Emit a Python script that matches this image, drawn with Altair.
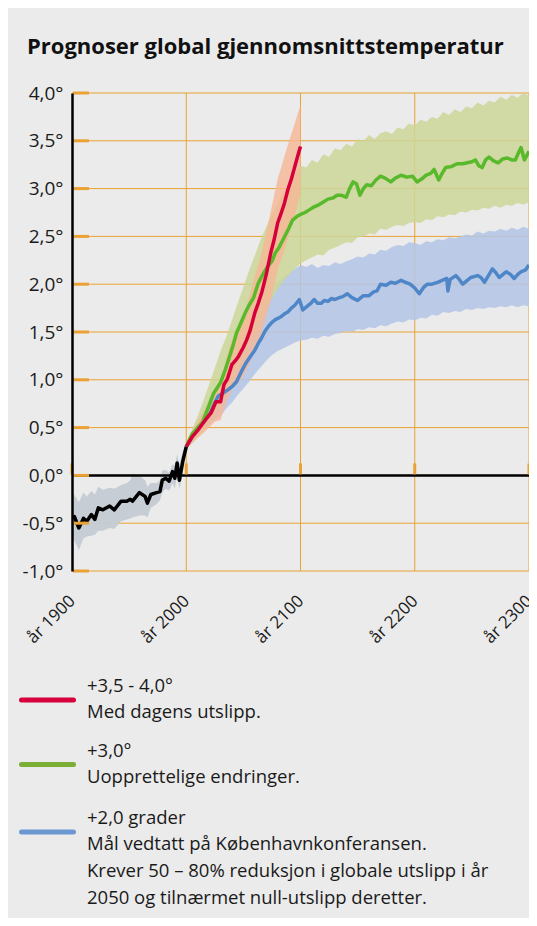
import altair as alt
import pandas as pd

FONT = "Open Sans"
TITLE = "Prognoser global gjennomsnittstemperatur"

y_ticks = [-1.0, -0.5, 0.0, 0.5, 1.0, 1.5, 2.0, 2.5, 3.0, 3.5, 4.0]
x_ticks = [1900, 2000, 2100, 2200, 2300]
grid_years = [2000, 2100, 2200, 2300]

# historical observations 1900-2000
hist_years = [1900, 1902, 1906, 1910, 1913, 1917, 1920, 1923, 1927, 1933, 1937, 1943, 1948, 1951, 1953,
              1959, 1964, 1966, 1969, 1974, 1977, 1979, 1982, 1985, 1988, 1990, 1992, 1994, 1997, 2000]
hist_temp = [-0.44, -0.43, -0.55, -0.45, -0.48, -0.41, -0.46, -0.34, -0.36, -0.32, -0.36, -0.27, -0.27, -0.25, -0.27,
             -0.18, -0.22, -0.29, -0.20, -0.18, -0.17, -0.05, -0.03, -0.06, 0.04, -0.03, 0.13, -0.05, 0.15, 0.30]
hist_hi = [-0.24, -0.20, -0.28, -0.18, -0.22, -0.16, -0.20, -0.12, -0.15, -0.13, -0.14, -0.10, -0.08, -0.05, 0.02,
           0.00, -0.05, -0.12, -0.08, -0.08, -0.05, 0.05, 0.06, 0.03, 0.12, 0.10, 0.22, 0.12, 0.25, 0.34]
hist_lo = [-0.62, -0.68, -0.78, -0.66, -0.64, -0.63, -0.62, -0.58, -0.58, -0.55, -0.56, -0.48, -0.46, -0.45, -0.44,
           -0.42, -0.42, -0.44, -0.34, -0.30, -0.26, -0.18, -0.14, -0.16, -0.08, -0.14, 0.00, -0.14, 0.02, 0.25]

# red scenario (+3,5 - 4,0)
red_years = [2000, 2005, 2010, 2013, 2018, 2022, 2026, 2030, 2033, 2036, 2040, 2043, 2046, 2050, 2053,
             2056, 2060, 2063, 2066, 2070, 2074, 2077, 2080, 2083, 2086, 2089, 2092, 2095, 2098, 2100]
red_temp = [0.30, 0.40, 0.47, 0.52, 0.60, 0.66, 0.77, 0.77, 0.95, 1.01, 1.16, 1.20, 1.25, 1.34, 1.42,
            1.52, 1.70, 1.80, 1.91, 2.10, 2.33, 2.47, 2.64, 2.74, 2.85, 2.99, 3.10, 3.23, 3.36, 3.44]
red_band_years = [2000, 2005, 2010, 2015, 2020, 2025, 2030, 2035, 2040, 2045, 2050,
                  2055, 2060, 2065, 2070, 2075, 2080, 2085, 2090, 2095, 2100]
red_hi = [0.33, 0.46, 0.56, 0.66, 0.76, 0.90, 0.98, 1.22, 1.42, 1.52, 1.66,
          1.86, 2.08, 2.28, 2.54, 2.82, 3.10, 3.30, 3.50, 3.68, 3.88]
red_lo = [0.27, 0.34, 0.39, 0.44, 0.50, 0.56, 0.58, 0.76, 0.90, 0.96, 1.04,
          1.16, 1.32, 1.46, 1.66, 1.88, 2.16, 2.32, 2.52, 2.72, 2.95]

# green scenario (+3,0)
green_years = [2000, 2005, 2010, 2014, 2019, 2024, 2030, 2034, 2037, 2041, 2044, 2048, 2052, 2055, 2059,
               2063, 2067, 2071, 2075, 2078, 2081, 2084, 2087, 2090, 2093, 2097, 2100, 2104, 2108, 2112,
               2116, 2120, 2124, 2128, 2132, 2136, 2140, 2143, 2146, 2149, 2152, 2155, 2158, 2162, 2166,
               2170, 2174, 2179, 2183, 2188, 2193, 2198, 2202, 2206, 2210, 2214, 2217, 2221, 2224, 2227,
               2232, 2237, 2242, 2246, 2250, 2253, 2256, 2259, 2262, 2265, 2269, 2273, 2277, 2281, 2285,
               2288, 2291, 2293, 2296, 2300]
green_temp = [0.30, 0.43, 0.50, 0.55, 0.70, 0.86, 0.97, 1.10, 1.21, 1.36, 1.49, 1.60, 1.71, 1.78, 1.86,
              2.01, 2.10, 2.18, 2.24, 2.33, 2.38, 2.45, 2.52, 2.59, 2.67, 2.71, 2.73, 2.75, 2.78, 2.81,
              2.83, 2.86, 2.89, 2.90, 2.93, 2.93, 2.91, 3.00, 3.07, 3.05, 2.93, 3.00, 3.04, 3.03, 3.09,
              3.13, 3.11, 3.07, 3.11, 3.14, 3.12, 3.13, 3.07, 3.10, 3.14, 3.16, 3.20, 3.09, 3.16, 3.22,
              3.23, 3.26, 3.26, 3.27, 3.28, 3.30, 3.24, 3.22, 3.30, 3.33, 3.29, 3.27, 3.31, 3.32, 3.30,
              3.30, 3.38, 3.43, 3.30, 3.39]

band_years = [2000, 2005, 2010, 2015, 2020, 2025, 2030, 2035, 2040, 2045, 2050, 2055, 2060, 2065, 2070,
              2075, 2080, 2085, 2090, 2095, 2100, 2105, 2110, 2115, 2120, 2125, 2130, 2135, 2140, 2145,
              2150, 2155, 2160, 2165, 2170, 2175, 2180, 2185, 2190, 2195, 2200, 2205, 2210, 2215, 2220,
              2225, 2230, 2235, 2240, 2245, 2250, 2255, 2260, 2265, 2270, 2275, 2280, 2285, 2290, 2295, 2300]
green_hi = [0.33, 0.48, 0.62, 0.78, 0.95, 1.12, 1.30, 1.45, 1.62, 1.80, 1.97, 2.14, 2.30, 2.46, 2.60,
            2.73, 2.85, 2.96, 3.06, 3.15, 3.24, 3.22, 3.30, 3.27, 3.36, 3.33, 3.42, 3.40, 3.47, 3.44,
            3.52, 3.50, 3.56, 3.52, 3.58, 3.60, 3.57, 3.64, 3.62, 3.68, 3.66, 3.72, 3.70, 3.75, 3.73,
            3.80, 3.77, 3.83, 3.80, 3.86, 3.84, 3.90, 3.87, 3.92, 3.90, 3.96, 3.93, 3.98, 3.95, 4.00, 3.97]
green_lo = [0.27, 0.33, 0.40, 0.47, 0.55, 0.65, 0.75, 0.86, 0.98, 1.12, 1.25, 1.38, 1.50, 1.63, 1.75,
            1.85, 1.95, 2.03, 2.10, 2.16, 2.22, 2.25, 2.28, 2.31, 2.30, 2.36, 2.38, 2.41, 2.44, 2.43,
            2.49, 2.50, 2.53, 2.52, 2.58, 2.57, 2.60, 2.62, 2.61, 2.64, 2.65, 2.64, 2.68, 2.67, 2.71,
            2.70, 2.73, 2.72, 2.76, 2.75, 2.78, 2.77, 2.80, 2.79, 2.82, 2.80, 2.83, 2.82, 2.85, 2.83, 2.86]

# blue scenario (+2,0)
blue_years = [2000, 2002, 2006, 2011, 2016, 2021, 2025, 2028, 2032, 2037, 2041, 2044, 2048, 2052, 2056,
              2060, 2063, 2066, 2069, 2072, 2075, 2078, 2083, 2086, 2089, 2092, 2095, 2099, 2102, 2106,
              2109, 2112, 2115, 2118, 2121, 2124, 2127, 2130, 2134, 2137, 2141, 2145, 2150, 2155, 2160,
              2164, 2167, 2170, 2175, 2179, 2183, 2188, 2192, 2196, 2200, 2204, 2208, 2211, 2215, 2220,
              2224, 2228, 2229, 2231, 2236, 2239, 2242, 2246, 2249, 2255, 2258, 2261, 2265, 2268, 2271,
              2274, 2277, 2280, 2284, 2287, 2290, 2293, 2297, 2300]
blue_temp = [0.30, 0.34, 0.42, 0.50, 0.57, 0.65, 0.76, 0.83, 0.86, 0.90, 0.94, 0.98, 1.08, 1.17, 1.24,
             1.31, 1.38, 1.44, 1.51, 1.56, 1.60, 1.63, 1.66, 1.69, 1.71, 1.75, 1.78, 1.84, 1.73, 1.77,
             1.80, 1.84, 1.80, 1.80, 1.83, 1.82, 1.85, 1.84, 1.86, 1.87, 1.90, 1.86, 1.83, 1.88, 1.88,
             1.92, 1.93, 2.00, 1.99, 2.02, 2.01, 2.04, 2.02, 2.00, 1.96, 1.90, 1.97, 2.00, 2.00, 2.02,
             2.04, 2.06, 1.93, 2.05, 2.09, 2.05, 2.00, 2.04, 2.07, 2.09, 2.07, 2.02, 2.10, 2.16, 2.12,
             2.07, 2.10, 2.13, 2.10, 2.06, 2.10, 2.13, 2.15, 2.20]
blue_hi = [0.32, 0.44, 0.56, 0.68, 0.80, 0.91, 1.02, 1.11, 1.20, 1.30, 1.40, 1.51, 1.62, 1.74, 1.85,
           1.94, 2.02, 2.07, 2.12, 2.16, 2.20, 2.18, 2.21, 2.17, 2.20, 2.19, 2.23, 2.21, 2.24, 2.26,
           2.29, 2.28, 2.32, 2.31, 2.36, 2.35, 2.39, 2.41, 2.40, 2.44, 2.43, 2.41, 2.45, 2.44, 2.47,
           2.46, 2.49, 2.48, 2.50, 2.52, 2.51, 2.55, 2.53, 2.56, 2.55, 2.58, 2.56, 2.59, 2.57, 2.60, 2.58]
blue_lo = [0.28, 0.36, 0.42, 0.48, 0.53, 0.58, 0.62, 0.70, 0.76, 0.84, 0.91, 0.98, 1.06, 1.13, 1.20,
           1.26, 1.30, 1.33, 1.36, 1.39, 1.41, 1.42, 1.44, 1.43, 1.46, 1.45, 1.48, 1.49, 1.51, 1.50,
           1.53, 1.52, 1.55, 1.54, 1.57, 1.56, 1.59, 1.61, 1.60, 1.63, 1.62, 1.65, 1.64, 1.68, 1.67,
           1.71, 1.70, 1.72, 1.71, 1.74, 1.73, 1.75, 1.74, 1.76, 1.75, 1.77, 1.76, 1.78, 1.76, 1.78, 1.77]

legend_heads = ["+3,5 - 4,0°", "+3,0°", "+2,0 grader"]
legend_notes = [["Med dagens utslipp."],
                ["Uopprettelige endringer."],
                ["Mål vedtatt på Københavnkonferansen.",
                 "Krever 50 – 80% reduksjon i globale utslipp i år",
                 "2050 og tilnærmet null-utslipp deretter."]]
legend_colors = ["#d5003c", "#7bae35", "#6c98d2"]

# ---------------- styling ----------------
W, H = 457, 478
PAD_L, PAD_T = 64, 85
BG = "#ebebeb"
ORANGE = "#e9a233"
TXT = "#1a1a1a"
xs = alt.Scale(domain=[1900, 2300], nice=False, zero=False)
ys = alt.Scale(domain=[-1, 4], nice=False, zero=False)
ZERO_PX = H * 4 / 5

X_AXIS = alt.Axis(
    values=x_ticks, title=None, grid=False, ticks=False, domain=False,
    labelExpr="'år ' + datum.value", labelAngle=-45, labelAlign="right", labelBaseline="middle",
    labelPadding=27, labelFont=FONT, labelFontSize=17, labelColor=TXT,
    labelFlush=False, labelOverlap=False, labelBound=False)
Y_AXIS = alt.Axis(
    values=y_ticks, title=None, grid=False, ticks=False,
    domain=True, domainColor="#000000", domainWidth=2.5, zindex=1,
    labelExpr="(datum.value < 0 ? '-' : '') + replace(format(abs(datum.value), '.1f'), '.', ',') + '°'",
    labelFont=FONT, labelFontSize=19, labelColor=TXT, labelPadding=9,
    labelFlush=False, labelOverlap=False)


def xq(f):
    return alt.X(f"{f}:Q", scale=xs, axis=X_AXIS)


def yq(f):
    return alt.Y(f"{f}:Q", scale=ys, axis=Y_AXIS)


one = pd.DataFrame({"a": [0]})

hgrid = alt.Chart(pd.DataFrame({"v": y_ticks})).mark_rule(color=ORANGE, strokeWidth=1).encode(
    y=yq("v"), x=alt.value(0), x2=alt.value(W))

vgrid = alt.Chart(pd.DataFrame({"yr": grid_years})).mark_rule(color=ORANGE, strokeWidth=1).encode(
    x=xq("yr"), y=alt.value(0), y2=alt.value(H))

hist_df = pd.DataFrame({"year": hist_years, "t": hist_temp, "lo": hist_lo, "hi": hist_hi})
red_df = pd.DataFrame({"year": red_years, "t": red_temp})
red_band = pd.DataFrame({"year": red_band_years, "lo": red_lo, "hi": red_hi})
green_df = pd.DataFrame({"year": green_years, "t": green_temp})
green_band = pd.DataFrame({"year": band_years, "lo": green_lo, "hi": green_hi})
blue_df = pd.DataFrame({"year": blue_years, "t": blue_temp})
blue_band = pd.DataFrame({"year": band_years, "lo": blue_lo, "hi": blue_hi})


def band(df, color, op):
    return alt.Chart(df).mark_area(color=color, opacity=op, clip=True).encode(
        x=xq("year"), y=yq("lo"), y2="hi:Q")


def line(df, color):
    return alt.Chart(df).mark_line(color=color, strokeWidth=3.5, clip=True, strokeJoin="round").encode(
        x=xq("year"), y=yq("t"))


zero_line = alt.Chart(pd.DataFrame({"x": [1900], "x2": [2300], "y": [0]})).mark_rule(
    color="#000000", strokeWidth=2.5).encode(x=xq("x"), x2="x2:Q", y=yq("y"))

y_tick_marks = alt.Chart(pd.DataFrame({"v": y_ticks})).mark_rule(color=ORANGE, strokeWidth=3).encode(
    y=yq("v"), x=alt.value(1), x2=alt.value(17))

zero_ticks = alt.Chart(pd.DataFrame({"yr": x_ticks})).mark_rule(color=ORANGE, strokeWidth=3).encode(
    x=xq("yr"), y=alt.value(ZERO_PX - 12), y2=alt.value(ZERO_PX - 1))

title = alt.Chart(one).mark_text(
    text=TITLE, font=FONT, fontWeight="bold", fontSize=22, align="left", baseline="alphabetic",
    color="#111111").encode(x=alt.value(-45), y=alt.value(-39))

legend_layers = []
swatch_y = [607, 671.5, 739]
head_y = [598.5, 663.6, 730.7]
for i, head in enumerate(legend_heads):
    legend_layers.append(alt.Chart(one).mark_rule(
        color=legend_colors[i], strokeWidth=5, strokeCap="round").encode(
        x=alt.value(-50.5), x2=alt.value(1.5), y=alt.value(swatch_y[i])))
    lines = [head] + legend_notes[i]
    for j, txt in enumerate(lines):
        legend_layers.append(alt.Chart(one).mark_text(
            text=txt, font=FONT, fontSize=18.5, align="left", baseline="alphabetic",
            color=TXT).encode(x=alt.value(15), y=alt.value(head_y[i] + j * 26.7)))

chart = alt.layer(
    hgrid, vgrid,
    band(hist_df, "#c4cbd3", 0.95),
    band(blue_band, "#b3c5e6", 0.85),
    band(green_band, "#cdd698", 0.85),
    band(red_band, "#f6b696", 0.8),
    zero_line,
    line(blue_df, "#4e86c7"),
    line(green_df, "#58b92b"),
    line(red_df, "#d6003a"),
    line(hist_df, "#000000"),
    y_tick_marks, zero_ticks,
    title, *legend_layers
).properties(
    width=W, height=H,
    padding={"left": PAD_L, "top": PAD_T, "right": 0, "bottom": 347},
    autosize=alt.AutoSizeParams(type="none"),
).configure(background=BG).configure_view(stroke=None)

chart.save("out.html", embed_options={"renderer": "svg", "actions": False})
